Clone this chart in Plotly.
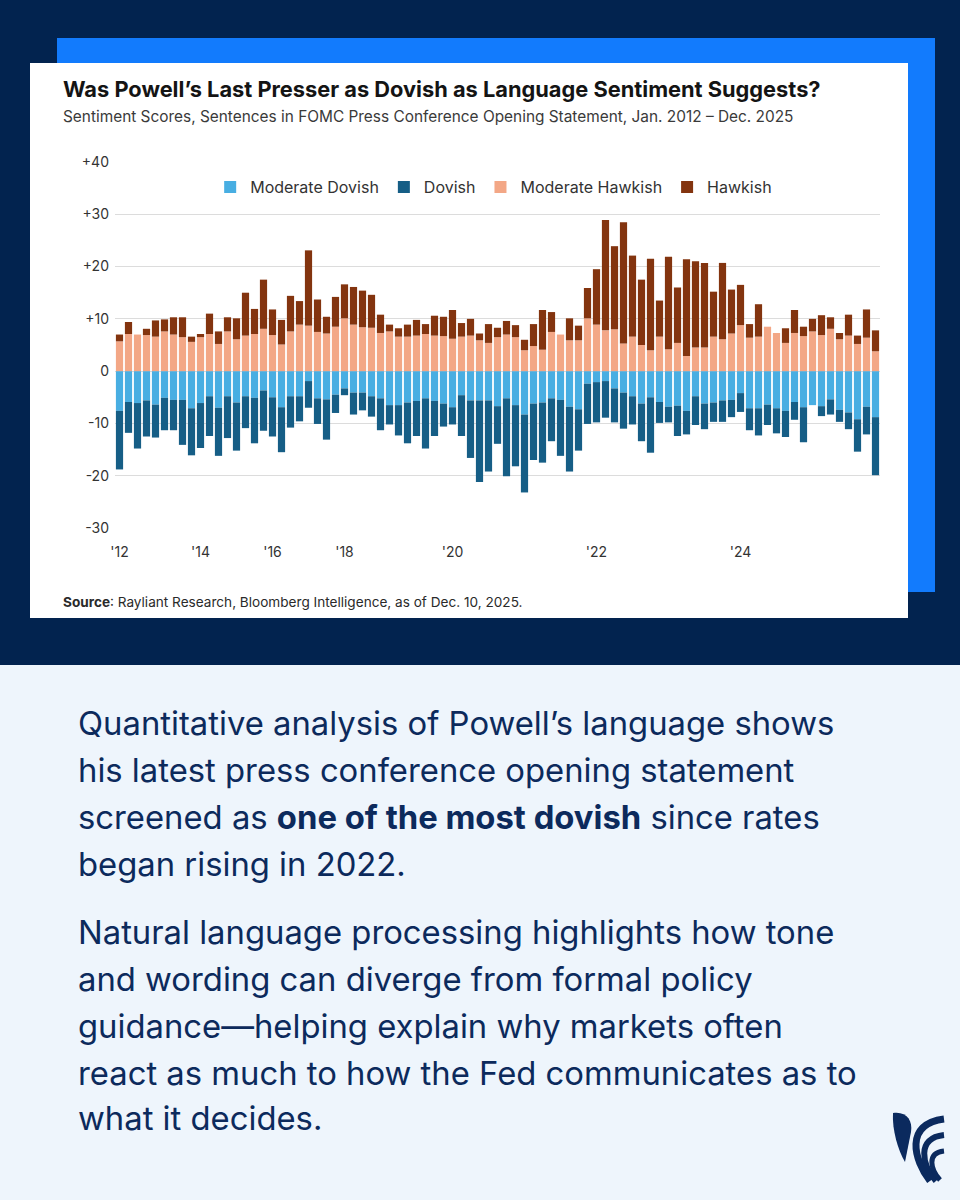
import plotly.graph_objects as go

# ---------------- data ----------------
meeting_months = {
    2012: ["Jan", "Apr", "Jun", "Sep", "Dec"],
    2013: ["Mar", "Jun", "Sep", "Dec"],
    2014: ["Mar", "Jun", "Sep", "Dec"],
    2015: ["Mar", "Jun", "Sep", "Dec"],
    2016: ["Mar", "Jun", "Sep", "Dec"],
    2017: ["Mar", "Jun", "Sep", "Dec"],
    2018: ["Mar", "Jun", "Sep", "Dec"],
    2019: ["Jan", "Mar", "May", "Jun", "Jul", "Sep", "Oct", "Dec"],
    2020: ["Jan", "Mar", "Apr", "Jun", "Jul", "Sep", "Nov", "Dec"],
    2021: ["Jan", "Mar", "Apr", "Jun", "Jul", "Sep", "Nov", "Dec"],
    2022: ["Jan", "Mar", "May", "Jun", "Jul", "Sep", "Nov", "Dec"],
    2023: ["Feb", "Mar", "May", "Jun", "Jul", "Sep", "Nov", "Dec"],
    2024: ["Jan", "Mar", "May", "Jun", "Jul", "Sep", "Nov", "Dec"],
    2025: ["Jan", "Mar", "May", "Jun", "Jul", "Sep", "Oct", "Dec"],
}
meetings = [f"{m} {y}" for y, ms in meeting_months.items() for m in ms]

moderate_dovish = [
    -7.6, -5.9, -6.1, -5.6, -6.4, -5.1, -5.5, -5.5, -7.1, -6.1,
    -4.8, -7.0, -4.8, -6.0, -4.8, -5.1, -3.7, -5.0, -6.9, -4.8,
    -4.8, -1.9, -5.2, -5.4, -4.5, -3.3, -4.1, -4.1, -4.8, -5.2,
    -6.5, -6.5, -6.0, -5.7, -5.2, -5.7, -6.2, -6.9, -4.6, -5.6,
    -5.6, -5.6, -6.7, -5.2, -6.5, -8.3, -6.2, -6.0, -5.2, -5.5,
    -6.8, -7.3, -2.4, -2.1, -1.9, -3.3, -4.1, -4.8, -6.2, -5.0,
    -5.9, -6.8, -6.6, -7.6, -4.8, -6.2, -6.0, -5.6, -5.5, -4.2,
    -7.1, -7.1, -6.4, -7.1, -7.6, -5.9, -6.9, -6.5, -6.7, -5.4,
    -7.4, -7.9, -9.2, -6.8, -8.8,
]
dovish = [
    -11.2, -5.9, -8.7, -6.9, -6.3, -6.2, -5.8, -8.6, -9.0, -8.6,
    -7.6, -9.2, -8.0, -9.2, -6.1, -8.7, -7.7, -7.5, -8.6, -6.0,
    -4.8, -5.1, -4.9, -7.7, -3.5, -1.3, -4.2, -3.4, -3.9, -6.1,
    -3.7, -5.8, -7.8, -6.7, -9.6, -6.7, -4.4, -3.3, -7.8, -11.0,
    -15.6, -13.6, -7.2, -14.9, -11.7, -14.9, -10.8, -11.5, -8.2, -10.7,
    -12.4, -7.9, -7.7, -7.7, -7.0, -6.5, -6.9, -5.4, -7.2, -10.6,
    -4.0, -3.0, -5.8, -4.5, -5.5, -4.9, -3.7, -4.1, -3.3, -3.6,
    -4.2, -5.2, -3.9, -4.8, -5.0, -3.4, -6.7, 0.0, -1.9, -2.9,
    -2.3, -3.2, -6.2, -5.3, -11.1,
]
moderate_hawkish = [
    5.7, 7.1, 7.0, 6.9, 6.6, 7.6, 7.0, 6.5, 5.6, 6.5,
    7.1, 5.2, 7.6, 6.1, 6.8, 7.1, 8.1, 6.9, 5.1, 7.6,
    8.9, 8.7, 7.5, 7.2, 8.5, 10.1, 8.9, 8.4, 8.3, 7.3,
    7.6, 6.6, 6.6, 6.8, 7.1, 6.8, 6.7, 6.2, 6.6, 6.8,
    5.9, 5.4, 6.5, 7.0, 6.5, 4.0, 4.8, 4.1, 7.5, 7.0,
    5.9, 5.9, 10.1, 8.9, 7.8, 8.0, 5.3, 6.6, 5.0, 4.0,
    6.6, 4.2, 5.4, 2.9, 4.5, 4.5, 6.6, 6.1, 7.2, 8.8,
    6.4, 6.6, 8.5, 7.3, 5.4, 7.3, 6.7, 7.6, 6.9, 8.1,
    6.1, 6.8, 5.2, 6.4, 3.8,
]
hawkish = [
    1.3, 2.3, 0.0, 1.2, 3.1, 2.3, 3.3, 3.8, 1.0, 0.6,
    3.9, 2.4, 2.7, 4.0, 8.2, 4.8, 9.4, 4.9, 4.7, 6.8,
    4.5, 14.4, 6.2, 3.2, 5.7, 6.5, 7.2, 7.0, 6.3, 3.5,
    1.3, 1.6, 2.3, 3.0, 1.9, 3.8, 3.7, 5.5, 2.6, 3.2,
    1.3, 3.6, 1.8, 2.6, 2.3, 2.0, 4.2, 7.6, 3.8, 0.0,
    4.2, 2.8, 5.8, 10.6, 21.1, 15.9, 23.2, 15.5, 12.5, 17.5,
    6.9, 17.7, 10.6, 18.5, 16.5, 16.2, 8.6, 14.6, 8.4, 7.7,
    2.6, 6.2, 0.0, 0.0, 2.8, 4.4, 1.8, 2.4, 3.8, 2.2,
    1.2, 4.0, 1.6, 5.4, 4.0,
]

y_tick_vals = [40, 30, 20, 10, 0, -10, -20, -30]
y_tick_text = ["+40", "+30", "+20", "+10", "0", "-10", "-20", "-30"]
x_tick_years = [2012, 2014, 2016, 2018, 2020, 2022, 2024]
x_tick_text = ["'12", "'14", "'16", "'18", "'20", "'22", "'24"]
x_tick_vals = [f"{meeting_months[y][0]} {y}" for y in x_tick_years]

# ---------------- styling ----------------
W, H = 960, 1200
ML, MR, MT, MB = 115, 80, 162, 672
PW, PH = W - ML - MR, H - MT - MB

def px(x):
    return (x - ML) / PW

def py(y):
    return (H - MB - y) / PH

NAVY = "#02234f"
BRIGHT = "#127bfd"
PAGE = "#eef5fc"
TEXT = "#0c2a5c"
FONT = "Inter"

colors = {
    "Moderate Dovish": "#48aee2",
    "Dovish": "#165e86",
    "Moderate Hawkish": "#f3a786",
    "Hawkish": "#83340f",
}

fig = go.Figure()
for name, vals in [("Moderate Dovish", moderate_dovish), ("Dovish", dovish),
                   ("Moderate Hawkish", moderate_hawkish), ("Hawkish", hawkish)]:
    fig.add_trace(go.Bar(x=meetings, y=vals, name=name,
                         marker=dict(color=colors[name], line=dict(width=0)),
                         hovertemplate="%{x}: %{y}<extra>" + name + "</extra>"))

shapes = [
    dict(type="rect", xref="paper", yref="paper", x0=px(0), x1=px(W), y0=py(0), y1=py(665),
         fillcolor=NAVY, line=dict(width=0), layer="below"),
    dict(type="rect", xref="paper", yref="paper", x0=px(57), x1=px(935), y0=py(38), y1=py(592),
         fillcolor=BRIGHT, line=dict(width=0), layer="below"),
    dict(type="rect", xref="paper", yref="paper", x0=px(30), x1=px(908), y0=py(63), y1=py(618),
         fillcolor="white", line=dict(width=0), layer="below"),
]

def path_px(cmds):
    out = []
    for c in cmds:
        if isinstance(c, str):
            out.append(c)
        else:
            out.append(f"{px(c[0]):.5f},{py(c[1]):.5f}")
    return " ".join(out)

LOGO = "#0b2a5e"
# leaf
shapes.append(dict(type="path", xref="paper", yref="paper",
                   path=path_px(["M", (893, 1113), "C", (906, 1111), (913, 1120), (911, 1132),
                                 "L", (905, 1162), "C", (898, 1150), (892, 1130), (893, 1113), "Z"]),
                   fillcolor=LOGO, line=dict(width=0)))
# arcs
for pts, wdt in [
    ([(944, 1119), (904, 1124), (914, 1160), (930, 1181)], 7),
    ([(944, 1135), (916, 1138), (922, 1165), (936, 1181)], 6),
    ([(944, 1151), (926, 1153), (931, 1170), (940, 1180)], 5),
]:
    shapes.append(dict(type="path", xref="paper", yref="paper",
                       path=path_px(["M", pts[0], "C", pts[1], pts[2], pts[3]]),
                       line=dict(color=LOGO, width=wdt), fillcolor="rgba(0,0,0,0)"))

annotations = [
    dict(text="<b>Was Powell’s Last Presser as Dovish as Language Sentiment Suggests?</b>",
         x=px(61), y=py(89), xref="paper", yref="paper", xanchor="left", yanchor="middle",
         showarrow=False, font=dict(family=FONT, size=21.8, color="#141414")),
    dict(text="Sentiment Scores, Sentences in FOMC Press Conference Opening Statement, Jan. 2012 – Dec. 2025",
         x=px(61), y=py(116), xref="paper", yref="paper", xanchor="left", yanchor="middle",
         showarrow=False, font=dict(family=FONT, size=15.4, color="#3a3a3a")),
    dict(text="<b>Source</b>: Rayliant Research, Bloomberg Intelligence, as of Dec. 10, 2025.",
         x=px(61), y=py(602), xref="paper", yref="paper", xanchor="left", yanchor="middle",
         showarrow=False, font=dict(family=FONT, size=13.6, color="#2a2a2a")),
]

body_lines = [
    ("Quantitative analysis of Powell’s language shows", 723),
    ("his latest press conference opening statement", 770),
    ("screened as <b>one of the most dovish</b> since rates", 817),
    ("began rising in 2022.", 864),
    ("Natural language processing highlights how tone", 932),
    ("and wording can diverge from formal policy", 979),
    ("guidance—helping explain why markets often", 1026),
    ("react as much to how the Fed communicates as to", 1073),
    ("what it decides.", 1118),
]
for txt, yy in body_lines:
    annotations.append(dict(text=txt, x=px(76), y=py(yy), xref="paper", yref="paper",
                            xanchor="left", yanchor="middle", showarrow=False,
                            font=dict(family=FONT, size=32.8, color=TEXT)))

fig.update_layout(
    width=W, height=H,
    margin=dict(l=ML, r=MR, t=MT, b=MB, pad=0),
    paper_bgcolor=PAGE, plot_bgcolor="rgba(0,0,0,0)",
    barmode="relative", bargap=0.2,
    font=dict(family=FONT, size=14, color="#333333"),
    showlegend=True,
    legend=dict(orientation="h", x=0.495, xanchor="center", y=py(187), yanchor="middle",
                xref="paper", yref="paper", bgcolor="rgba(0,0,0,0)",
                font=dict(family=FONT, size=16, color="#333333"), itemwidth=30,
                traceorder="normal"),
    shapes=shapes, annotations=annotations,
    xaxis=dict(type="category", categoryorder="array", categoryarray=meetings,
               range=[-0.5, len(meetings) - 0.5],
               tickmode="array", tickvals=x_tick_vals, ticktext=x_tick_text,
               showgrid=False, showline=False, ticks="", zeroline=False,
               tickfont=dict(family=FONT, size=14, color="#333333"), ticklabelstandoff=14),
    yaxis=dict(range=[-30, 40], tickmode="array", tickvals=y_tick_vals, ticktext=y_tick_text,
               showgrid=True, gridcolor="#dcdcdc", gridwidth=1, zeroline=False, showline=False,
               ticks="", tickfont=dict(family=FONT, size=14, color="#333333"), ticklabelstandoff=5),
)

fig.write_html("out.html", post_script="document.body.style.margin='0px';",
               config={"displayModeBar": False})
